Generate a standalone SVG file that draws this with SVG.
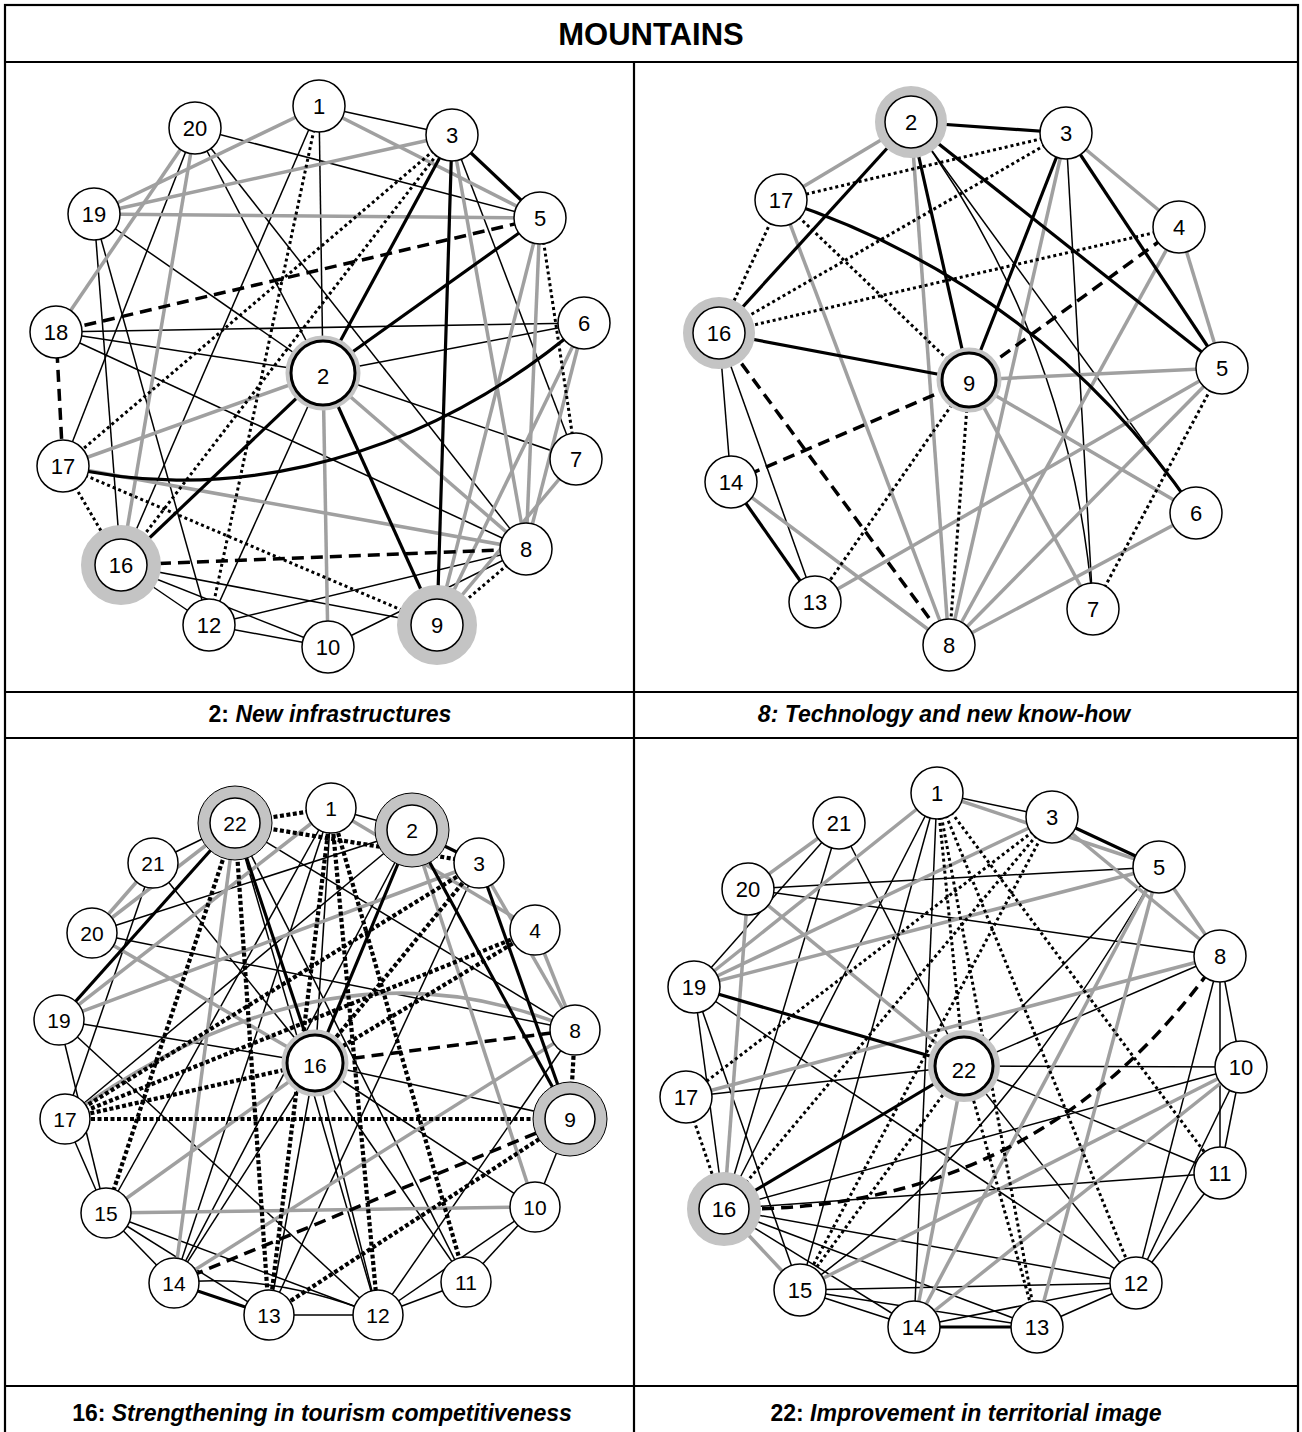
<svg xmlns="http://www.w3.org/2000/svg" width="1302" height="1432" viewBox="0 0 1302 1432">
<style>
.frame{fill:none;stroke:#000;stroke-width:2.2}
.t{stroke:#000;stroke-width:1.5;fill:none}
.k{stroke:#000;stroke-width:3.2;fill:none}
.g{stroke:#a0a0a0;stroke-width:3.5;fill:none}
.d{stroke:#000;stroke-width:3;stroke-dasharray:3 3;fill:none}
.D{stroke:#000;stroke-width:4.2;stroke-dasharray:4 2.5;fill:none}
.s{stroke:#000;stroke-width:3.5;stroke-dasharray:12 7;fill:none}
.n{fill:#fff;stroke:#000;stroke-width:1.5}
.nb{fill:#fff;stroke:#000;stroke-width:3}
.ring{fill:none;stroke:#c4c4c4}
.lb{font-family:"Liberation Sans",Arial,sans-serif;font-size:22px;text-anchor:middle;fill:#000}
.lb3{font-family:"Liberation Sans",Arial,sans-serif;font-size:21px;text-anchor:middle;fill:#000}
.cap{font-family:"Liberation Sans",Arial,sans-serif;font-size:23px;font-weight:bold;text-anchor:middle;fill:#000}
.hd{font-family:"Liberation Sans",Arial,sans-serif;font-size:31px;font-weight:bold;text-anchor:middle;fill:#000}
</style>
<rect x="0" y="0" width="1302" height="1432" fill="#fff"/>
<g id="table">
<rect class="frame" x="5" y="5" width="1293" height="1440"/>
<line class="frame" x1="5" y1="62" x2="1298" y2="62"/>
<line class="frame" x1="5" y1="692" x2="1298" y2="692"/>
<line class="frame" x1="5" y1="738" x2="1298" y2="738"/>
<line class="frame" x1="5" y1="1386" x2="1298" y2="1386"/>
<line class="frame" x1="634" y1="62" x2="634" y2="1432"/>
<text class="hd" x="651" y="45">MOUNTAINS</text>
<text class="cap" x="330" y="722">2: <tspan font-style="italic">New infrastructures</tspan></text>
<text class="cap" x="944" y="722" font-style="italic">8: Technology and new know-how</text>
<text class="cap" x="322" y="1421">16: <tspan font-style="italic">Strengthening in tourism competitiveness</tspan></text>
<text class="cap" x="966" y="1421">22: <tspan font-style="italic">Improvement in territorial image</tspan></text>
</g>

<g id="p1-edges">
<line class="t" x1="319" y1="106" x2="452" y2="135"/>
<line class="t" x1="319" y1="106" x2="323" y2="373"/>
<line class="t" x1="319" y1="106" x2="121" y2="565"/>
<line class="t" x1="195" y1="128" x2="540" y2="218"/>
<line class="t" x1="195" y1="128" x2="63" y2="466"/>
<line class="t" x1="195" y1="128" x2="323" y2="373"/>
<line class="t" x1="195" y1="128" x2="526" y2="549"/>
<line class="t" x1="452" y1="135" x2="576" y2="459"/>
<line class="t" x1="94" y1="214" x2="323" y2="373"/>
<line class="t" x1="94" y1="214" x2="121" y2="565"/>
<line class="t" x1="94" y1="214" x2="209" y2="625"/>
<line class="t" x1="56" y1="332" x2="584" y2="323"/>
<line class="t" x1="56" y1="332" x2="323" y2="373"/>
<line class="t" x1="56" y1="332" x2="526" y2="549"/>
<line class="t" x1="584" y1="323" x2="323" y2="373"/>
<line class="t" x1="323" y1="373" x2="209" y2="625"/>
<line class="t" x1="323" y1="373" x2="576" y2="459"/>
<line class="t" x1="121" y1="565" x2="437" y2="625"/>
<line class="t" x1="121" y1="565" x2="328" y2="647"/>
<line class="t" x1="121" y1="565" x2="209" y2="625"/>
<line class="t" x1="209" y1="625" x2="526" y2="549"/>
<line class="t" x1="209" y1="625" x2="328" y2="647"/>
<line class="t" x1="328" y1="647" x2="526" y2="549"/>
<line class="g" x1="319" y1="106" x2="540" y2="218"/>
<line class="g" x1="319" y1="106" x2="94" y2="214"/>
<line class="g" x1="195" y1="128" x2="56" y2="332"/>
<line class="g" x1="195" y1="128" x2="121" y2="565"/>
<line class="g" x1="452" y1="135" x2="94" y2="214"/>
<line class="g" x1="452" y1="135" x2="526" y2="549"/>
<line class="g" x1="540" y1="218" x2="94" y2="214"/>
<line class="g" x1="540" y1="218" x2="437" y2="625"/>
<line class="g" x1="540" y1="218" x2="526" y2="549"/>
<line class="g" x1="323" y1="373" x2="328" y2="647"/>
<line class="g" x1="323" y1="373" x2="526" y2="549"/>
<line class="g" x1="323" y1="373" x2="63" y2="466"/>
<line class="g" x1="63" y1="466" x2="526" y2="549"/>
<line class="g" x1="584" y1="323" x2="526" y2="549"/>
<line class="g" x1="584" y1="323" x2="437" y2="625"/>
<line class="g" x1="576" y1="459" x2="437" y2="625"/>
<line class="k" x1="452" y1="135" x2="540" y2="218"/>
<line class="k" x1="452" y1="135" x2="323" y2="373"/>
<line class="k" x1="452" y1="135" x2="437" y2="625"/>
<line class="k" x1="540" y1="218" x2="323" y2="373"/>
<line class="k" x1="323" y1="373" x2="437" y2="625"/>
<line class="k" x1="323" y1="373" x2="121" y2="565"/>
<path class="k" d="M63,466 C200,500 400,480 584,323"/>
<line class="d" x1="319" y1="106" x2="209" y2="625"/>
<line class="d" x1="452" y1="135" x2="63" y2="466"/>
<line class="d" x1="452" y1="135" x2="121" y2="565"/>
<line class="d" x1="540" y1="218" x2="576" y2="459"/>
<line class="d" x1="63" y1="466" x2="437" y2="625"/>
<line class="d" x1="63" y1="466" x2="121" y2="565"/>
<line class="d" x1="437" y1="625" x2="526" y2="549"/>
<line class="s" x1="540" y1="218" x2="56" y2="332"/>
<line class="s" x1="56" y1="332" x2="63" y2="466"/>
<line class="s" x1="121" y1="565" x2="526" y2="549"/>
</g>

<g id="p1-nodes">
<g id="p1-n1"><circle class="n" cx="319" cy="106" r="26"/><text class="lb" x="319" y="114">1</text></g>
<g id="p1-n20"><circle class="n" cx="195" cy="128" r="26"/><text class="lb" x="195" y="136">20</text></g>
<g id="p1-n3"><circle class="n" cx="452" cy="135" r="26"/><text class="lb" x="452" y="143">3</text></g>
<g id="p1-n19"><circle class="n" cx="94" cy="214" r="26"/><text class="lb" x="94" y="222">19</text></g>
<g id="p1-n5"><circle class="n" cx="540" cy="218" r="26"/><text class="lb" x="540" y="226">5</text></g>
<g id="p1-n18"><circle class="n" cx="56" cy="332" r="26"/><text class="lb" x="56" y="340">18</text></g>
<g id="p1-n6"><circle class="n" cx="584" cy="323" r="26"/><text class="lb" x="584" y="331">6</text></g>
<g id="p1-n2"><circle class="ring" cx="323" cy="373" r="35" stroke-width="5"/><circle class="nb" cx="323" cy="373" r="32"/><text class="lb" x="323" y="384" font-size="32">2</text></g>
<g id="p1-n17"><circle class="n" cx="63" cy="466" r="26"/><text class="lb" x="63" y="474">17</text></g>
<g id="p1-n7"><circle class="n" cx="576" cy="459" r="26"/><text class="lb" x="576" y="467">7</text></g>
<g id="p1-n16"><circle class="ring" cx="121" cy="565" r="33" stroke-width="14"/><circle class="n" cx="121" cy="565" r="26"/><text class="lb" x="121" y="573">16</text></g>
<g id="p1-n8"><circle class="n" cx="526" cy="549" r="26"/><text class="lb" x="526" y="557">8</text></g>
<g id="p1-n12"><circle class="n" cx="209" cy="625" r="26"/><text class="lb" x="209" y="633">12</text></g>
<g id="p1-n10"><circle class="n" cx="328" cy="647" r="26"/><text class="lb" x="328" y="655">10</text></g>
<g id="p1-n9"><circle class="ring" cx="437" cy="625" r="33" stroke-width="14"/><circle class="n" cx="437" cy="625" r="26"/><text class="lb" x="437" y="633">9</text></g>
</g>

<g id="p2-edges">
<path class="t" d="M911,122 Q1072,339 1093,609"/>
<line class="t" x1="911" y1="122" x2="1196" y2="513"/>
<line class="t" x1="1066" y1="133" x2="1093" y2="609"/>
<line class="t" x1="719" y1="333" x2="731" y2="482"/>
<line class="t" x1="719" y1="333" x2="815" y2="602"/>
<line class="g" x1="911" y1="122" x2="781" y2="200"/>
<line class="g" x1="911" y1="122" x2="949" y2="645"/>
<line class="g" x1="1066" y1="133" x2="949" y2="645"/>
<line class="g" x1="1066" y1="133" x2="1179" y2="227"/>
<line class="g" x1="781" y1="200" x2="949" y2="645"/>
<line class="g" x1="1179" y1="227" x2="1222" y2="368"/>
<line class="g" x1="1179" y1="227" x2="949" y2="645"/>
<line class="g" x1="969" y1="380" x2="1222" y2="368"/>
<line class="g" x1="969" y1="380" x2="1196" y2="513"/>
<line class="g" x1="969" y1="380" x2="1093" y2="609"/>
<line class="g" x1="1222" y1="368" x2="815" y2="602"/>
<line class="g" x1="1222" y1="368" x2="949" y2="645"/>
<line class="g" x1="731" y1="482" x2="949" y2="645"/>
<line class="g" x1="1196" y1="513" x2="949" y2="645"/>
<line class="k" x1="911" y1="122" x2="1066" y2="133"/>
<line class="k" x1="911" y1="122" x2="719" y2="333"/>
<line class="k" x1="911" y1="122" x2="969" y2="380"/>
<line class="k" x1="911" y1="122" x2="1222" y2="368"/>
<line class="k" x1="1066" y1="133" x2="969" y2="380"/>
<line class="k" x1="1066" y1="133" x2="1222" y2="368"/>
<line class="k" x1="719" y1="333" x2="969" y2="380"/>
<line class="k" x1="731" y1="482" x2="815" y2="602"/>
<path class="k" d="M781,200 Q1040,285 1196,513"/>
<line class="d" x1="1066" y1="133" x2="781" y2="200"/>
<line class="d" x1="1066" y1="133" x2="719" y2="333"/>
<line class="d" x1="781" y1="200" x2="969" y2="380"/>
<line class="d" x1="781" y1="200" x2="719" y2="333"/>
<line class="d" x1="1179" y1="227" x2="719" y2="333"/>
<line class="d" x1="969" y1="380" x2="815" y2="602"/>
<line class="d" x1="969" y1="380" x2="949" y2="645"/>
<line class="d" x1="1222" y1="368" x2="1093" y2="609"/>
<line class="s" x1="1179" y1="227" x2="969" y2="380"/>
<line class="s" x1="719" y1="333" x2="949" y2="645"/>
<line class="s" x1="969" y1="380" x2="731" y2="482"/>
</g>

<g id="p2-nodes">
<g id="p2-n2"><circle class="ring" cx="911" cy="122" r="31" stroke-width="10"/><circle class="n" cx="911" cy="122" r="26"/><text class="lb" x="911" y="130">2</text></g>
<g id="p2-n3"><circle class="n" cx="1066" cy="133" r="26"/><text class="lb" x="1066" y="141">3</text></g>
<g id="p2-n17"><circle class="n" cx="781" cy="200" r="26"/><text class="lb" x="781" y="208">17</text></g>
<g id="p2-n4"><circle class="n" cx="1179" cy="227" r="26"/><text class="lb" x="1179" y="235">4</text></g>
<g id="p2-n16"><circle class="ring" cx="719" cy="333" r="31" stroke-width="10"/><circle class="n" cx="719" cy="333" r="26"/><text class="lb" x="719" y="341">16</text></g>
<g id="p2-n5"><circle class="n" cx="1222" cy="368" r="26"/><text class="lb" x="1222" y="376">5</text></g>
<g id="p2-n9"><circle class="ring" cx="969" cy="380" r="30" stroke-width="5"/><circle class="nb" cx="969" cy="380" r="27"/><text class="lb" x="969" y="391" font-size="30">9</text></g>
<g id="p2-n14"><circle class="n" cx="731" cy="482" r="26"/><text class="lb" x="731" y="490">14</text></g>
<g id="p2-n6"><circle class="n" cx="1196" cy="513" r="26"/><text class="lb" x="1196" y="521">6</text></g>
<g id="p2-n13"><circle class="n" cx="815" cy="602" r="26"/><text class="lb" x="815" y="610">13</text></g>
<g id="p2-n7"><circle class="n" cx="1093" cy="609" r="26"/><text class="lb" x="1093" y="617">7</text></g>
<g id="p2-n8"><circle class="n" cx="949" cy="645" r="26"/><text class="lb" x="949" y="653">8</text></g>
</g>

<g id="p3-edges">
<line class="t" x1="235" y1="823" x2="153" y2="863"/>
<line class="t" x1="331" y1="808" x2="412" y2="830"/>
<line class="t" x1="92" y1="933" x2="412" y2="830"/>
<line class="t" x1="92" y1="933" x2="575" y2="1030"/>
<line class="t" x1="235" y1="823" x2="575" y2="1030"/>
<line class="t" x1="153" y1="863" x2="65" y2="1119"/>
<line class="t" x1="153" y1="863" x2="315" y2="1063"/>
<line class="t" x1="59" y1="1020" x2="315" y2="1063"/>
<line class="t" x1="59" y1="1020" x2="378" y2="1315"/>
<line class="t" x1="59" y1="1020" x2="106" y2="1213"/>
<line class="t" x1="65" y1="1119" x2="106" y2="1213"/>
<line class="t" x1="331" y1="808" x2="315" y2="1063"/>
<line class="t" x1="331" y1="808" x2="174" y2="1283"/>
<line class="t" x1="331" y1="808" x2="106" y2="1213"/>
<line class="t" x1="412" y1="830" x2="174" y2="1283"/>
<line class="t" x1="412" y1="830" x2="65" y2="1119"/>
<line class="t" x1="315" y1="1063" x2="570" y2="1119"/>
<line class="t" x1="315" y1="1063" x2="269" y2="1315"/>
<line class="t" x1="315" y1="1063" x2="378" y2="1315"/>
<line class="t" x1="315" y1="1063" x2="174" y2="1283"/>
<line class="t" x1="315" y1="1063" x2="466" y2="1282"/>
<line class="t" x1="315" y1="1063" x2="535" y2="1207"/>
<line class="t" x1="106" y1="1213" x2="174" y2="1283"/>
<line class="t" x1="106" y1="1213" x2="269" y2="1315"/>
<line class="t" x1="106" y1="1213" x2="378" y2="1315"/>
<path class="t" d="M174,1283 Q270,1272 378,1315"/>
<line class="t" x1="269" y1="1315" x2="378" y2="1315"/>
<line class="t" x1="378" y1="1315" x2="466" y2="1282"/>
<line class="t" x1="378" y1="1315" x2="535" y2="1207"/>
<line class="t" x1="466" y1="1282" x2="535" y2="1207"/>
<line class="t" x1="235" y1="823" x2="466" y2="1282"/>
<line class="t" x1="235" y1="823" x2="378" y2="1315"/>
<line class="t" x1="479" y1="863" x2="269" y2="1315"/>
<line class="t" x1="570" y1="1119" x2="535" y2="1207"/>
<line class="t" x1="575" y1="1030" x2="378" y2="1315"/>
<line class="g" x1="153" y1="863" x2="92" y2="933"/>
<line class="g" x1="235" y1="823" x2="92" y2="933"/>
<line class="g" x1="331" y1="808" x2="59" y2="1020"/>
<line class="g" x1="479" y1="863" x2="59" y2="1020"/>
<line class="g" x1="331" y1="808" x2="535" y2="930"/>
<line class="g" x1="412" y1="830" x2="535" y2="1207"/>
<line class="g" x1="479" y1="863" x2="575" y2="1030"/>
<line class="g" x1="535" y1="930" x2="575" y2="1030"/>
<path class="g" d="M65,1119 Q330,925 575,1030"/>
<line class="g" x1="92" y1="933" x2="315" y2="1063"/>
<line class="g" x1="106" y1="1213" x2="315" y2="1063"/>
<line class="g" x1="106" y1="1213" x2="535" y2="1207"/>
<line class="g" x1="174" y1="1283" x2="575" y2="1030"/>
<line class="g" x1="235" y1="823" x2="174" y2="1283"/>
<line class="k" x1="235" y1="823" x2="59" y2="1020"/>
<line class="k" x1="235" y1="823" x2="315" y2="1063"/>
<line class="k" x1="412" y1="830" x2="315" y2="1063"/>
<line class="k" x1="412" y1="830" x2="570" y2="1119"/>
<line class="k" x1="479" y1="863" x2="570" y2="1119"/>
<line class="k" x1="412" y1="830" x2="479" y2="863"/>
<line class="k" x1="174" y1="1283" x2="269" y2="1315"/>
<line class="D" x1="235" y1="823" x2="331" y2="808"/>
<line class="D" x1="235" y1="823" x2="479" y2="863"/>
<line class="D" x1="235" y1="823" x2="269" y2="1315"/>
<line class="D" x1="235" y1="823" x2="106" y2="1213"/>
<line class="D" x1="331" y1="808" x2="269" y2="1315"/>
<line class="D" x1="331" y1="808" x2="378" y2="1315"/>
<line class="D" x1="331" y1="808" x2="466" y2="1282"/>
<line class="D" x1="479" y1="863" x2="315" y2="1063"/>
<line class="D" x1="535" y1="930" x2="315" y2="1063"/>
<line class="D" x1="479" y1="863" x2="65" y2="1119"/>
<line class="D" x1="535" y1="930" x2="65" y2="1119"/>
<line class="D" x1="65" y1="1119" x2="315" y2="1063"/>
<line class="D" x1="65" y1="1119" x2="570" y2="1119"/>
<line class="D" x1="269" y1="1315" x2="570" y2="1119"/>
<line class="D" x1="575" y1="1030" x2="570" y2="1119"/>
<line class="s" x1="315" y1="1063" x2="575" y2="1030"/>
<line class="s" x1="174" y1="1283" x2="570" y2="1119"/>
</g>

<g id="p3-nodes">
<g id="p3-n22"><circle class="ring" cx="235" cy="823" r="31" stroke-width="12" stroke="#bdbdbd"/><circle cx="235" cy="823" r="37" fill="none" stroke="#000" stroke-width="1"/><circle class="n" cx="235" cy="823" r="25"/><text class="lb3" x="235" y="831">22</text></g>
<g id="p3-n1"><circle class="n" cx="331" cy="808" r="25"/><text class="lb3" x="331" y="816">1</text></g>
<g id="p3-n2"><circle class="ring" cx="412" cy="830" r="31" stroke-width="12" stroke="#bdbdbd"/><circle cx="412" cy="830" r="37" fill="none" stroke="#000" stroke-width="1"/><circle class="n" cx="412" cy="830" r="25"/><text class="lb3" x="412" y="838">2</text></g>
<g id="p3-n21"><circle class="n" cx="153" cy="863" r="25"/><text class="lb3" x="153" y="871">21</text></g>
<g id="p3-n3"><circle class="n" cx="479" cy="863" r="25"/><text class="lb3" x="479" y="871">3</text></g>
<g id="p3-n20"><circle class="n" cx="92" cy="933" r="25"/><text class="lb3" x="92" y="941">20</text></g>
<g id="p3-n4"><circle class="n" cx="535" cy="930" r="25"/><text class="lb3" x="535" y="938">4</text></g>
<g id="p3-n19"><circle class="n" cx="59" cy="1020" r="25"/><text class="lb3" x="59" y="1028">19</text></g>
<g id="p3-n8"><circle class="n" cx="575" cy="1030" r="25"/><text class="lb3" x="575" y="1038">8</text></g>
<g id="p3-n16"><circle class="ring" cx="315" cy="1063" r="31" stroke-width="5"/><circle class="nb" cx="315" cy="1063" r="28"/><text class="lb3" x="315" y="1073" font-size="30">16</text></g>
<g id="p3-n17"><circle class="n" cx="65" cy="1119" r="25"/><text class="lb3" x="65" y="1127">17</text></g>
<g id="p3-n9"><circle class="ring" cx="570" cy="1119" r="31" stroke-width="12" stroke="#bdbdbd"/><circle cx="570" cy="1119" r="37" fill="none" stroke="#000" stroke-width="1"/><circle class="n" cx="570" cy="1119" r="25"/><text class="lb3" x="570" y="1127">9</text></g>
<g id="p3-n15"><circle class="n" cx="106" cy="1213" r="25"/><text class="lb3" x="106" y="1221">15</text></g>
<g id="p3-n10"><circle class="n" cx="535" cy="1207" r="25"/><text class="lb3" x="535" y="1215">10</text></g>
<g id="p3-n14"><circle class="n" cx="174" cy="1283" r="25"/><text class="lb3" x="174" y="1291">14</text></g>
<g id="p3-n11"><circle class="n" cx="466" cy="1282" r="25"/><text class="lb3" x="466" y="1290">11</text></g>
<g id="p3-n13"><circle class="n" cx="269" cy="1315" r="25"/><text class="lb3" x="269" y="1323">13</text></g>
<g id="p3-n12"><circle class="n" cx="378" cy="1315" r="25"/><text class="lb3" x="378" y="1323">12</text></g>
</g>

<g id="p4-edges">
<line class="t" x1="937" y1="793" x2="1052" y2="817"/>
<line class="t" x1="937" y1="793" x2="724" y2="1209"/>
<line class="t" x1="937" y1="793" x2="800" y2="1290"/>
<line class="t" x1="937" y1="793" x2="914" y2="1327"/>
<line class="t" x1="1159" y1="867" x2="748" y2="889"/>
<line class="t" x1="1159" y1="867" x2="964" y2="1066"/>
<line class="t" x1="748" y1="889" x2="1220" y2="956"/>
<line class="t" x1="839" y1="823" x2="694" y2="987"/>
<line class="t" x1="839" y1="823" x2="724" y2="1209"/>
<line class="t" x1="839" y1="823" x2="964" y2="1066"/>
<line class="t" x1="1220" y1="956" x2="964" y2="1066"/>
<line class="t" x1="1220" y1="956" x2="1241" y2="1067"/>
<line class="t" x1="1220" y1="956" x2="1220" y2="1173"/>
<line class="t" x1="1220" y1="956" x2="1136" y2="1283"/>
<line class="t" x1="694" y1="987" x2="724" y2="1209"/>
<line class="t" x1="694" y1="987" x2="800" y2="1290"/>
<line class="t" x1="694" y1="987" x2="1136" y2="1283"/>
<line class="t" x1="686" y1="1097" x2="964" y2="1066"/>
<line class="t" x1="964" y1="1066" x2="1241" y2="1067"/>
<line class="t" x1="964" y1="1066" x2="1220" y2="1173"/>
<line class="t" x1="964" y1="1066" x2="1136" y2="1283"/>
<line class="t" x1="724" y1="1209" x2="1220" y2="1173"/>
<line class="t" x1="724" y1="1209" x2="1241" y2="1067"/>
<line class="t" x1="724" y1="1209" x2="1136" y2="1283"/>
<line class="t" x1="724" y1="1209" x2="1037" y2="1327"/>
<line class="t" x1="724" y1="1209" x2="914" y2="1327"/>
<line class="t" x1="800" y1="1290" x2="1136" y2="1283"/>
<line class="t" x1="800" y1="1290" x2="1037" y2="1327"/>
<line class="t" x1="800" y1="1290" x2="914" y2="1327"/>
<line class="t" x1="914" y1="1327" x2="1136" y2="1283"/>
<line class="t" x1="1037" y1="1327" x2="1136" y2="1283"/>
<line class="t" x1="1136" y1="1283" x2="1241" y2="1067"/>
<line class="t" x1="1136" y1="1283" x2="1220" y2="1173"/>
<line class="t" x1="1220" y1="1173" x2="1241" y2="1067"/>
<path class="t" d="M800,1290 Q1000,1150 1159,867"/>
<line class="g" x1="937" y1="793" x2="1159" y2="867"/>
<line class="g" x1="1052" y1="817" x2="1220" y2="956"/>
<line class="g" x1="937" y1="793" x2="694" y2="987"/>
<line class="g" x1="1052" y1="817" x2="694" y2="987"/>
<line class="g" x1="1159" y1="867" x2="694" y2="987"/>
<line class="g" x1="1159" y1="867" x2="1220" y2="956"/>
<line class="g" x1="1159" y1="867" x2="1037" y2="1327"/>
<line class="g" x1="1159" y1="867" x2="914" y2="1327"/>
<line class="g" x1="748" y1="889" x2="964" y2="1066"/>
<line class="g" x1="748" y1="889" x2="839" y2="823"/>
<line class="g" x1="748" y1="889" x2="724" y2="1209"/>
<line class="g" x1="686" y1="1097" x2="1220" y2="956"/>
<line class="g" x1="964" y1="1066" x2="914" y2="1327"/>
<line class="g" x1="1241" y1="1067" x2="800" y2="1290"/>
<line class="g" x1="1241" y1="1067" x2="914" y2="1327"/>
<line class="g" x1="724" y1="1209" x2="800" y2="1290"/>
<line class="k" x1="1052" y1="817" x2="1159" y2="867"/>
<line class="k" x1="694" y1="987" x2="964" y2="1066"/>
<line class="k" x1="724" y1="1209" x2="964" y2="1066"/>
<line class="k" x1="914" y1="1327" x2="1037" y2="1327"/>
<line class="d" x1="937" y1="793" x2="964" y2="1066"/>
<line class="d" x1="937" y1="793" x2="1037" y2="1327"/>
<line class="d" x1="937" y1="793" x2="1136" y2="1283"/>
<line class="d" x1="937" y1="793" x2="1220" y2="1173"/>
<line class="d" x1="1052" y1="817" x2="686" y2="1097"/>
<line class="d" x1="1052" y1="817" x2="724" y2="1209"/>
<line class="d" x1="1052" y1="817" x2="800" y2="1290"/>
<line class="d" x1="964" y1="1066" x2="1037" y2="1327"/>
<line class="d" x1="964" y1="1066" x2="800" y2="1290"/>
<line class="d" x1="686" y1="1097" x2="724" y2="1209"/>
<path class="s" d="M724,1209 Q1040,1215 1220,956"/>
</g>

<g id="p4-nodes">
<g id="p4-n1"><circle class="n" cx="937" cy="793" r="26"/><text class="lb" x="937" y="801">1</text></g>
<g id="p4-n21"><circle class="n" cx="839" cy="823" r="26"/><text class="lb" x="839" y="831">21</text></g>
<g id="p4-n3"><circle class="n" cx="1052" cy="817" r="26"/><text class="lb" x="1052" y="825">3</text></g>
<g id="p4-n20"><circle class="n" cx="748" cy="889" r="26"/><text class="lb" x="748" y="897">20</text></g>
<g id="p4-n5"><circle class="n" cx="1159" cy="867" r="26"/><text class="lb" x="1159" y="875">5</text></g>
<g id="p4-n8"><circle class="n" cx="1220" cy="956" r="26"/><text class="lb" x="1220" y="964">8</text></g>
<g id="p4-n19"><circle class="n" cx="694" cy="987" r="26"/><text class="lb" x="694" y="995">19</text></g>
<g id="p4-n22"><circle class="ring" cx="964" cy="1066" r="33" stroke-width="6"/><circle class="nb" cx="964" cy="1066" r="29"/><text class="lb" x="964" y="1078" font-size="34">22</text></g>
<g id="p4-n17"><circle class="n" cx="686" cy="1097" r="26"/><text class="lb" x="686" y="1105">17</text></g>
<g id="p4-n10"><circle class="n" cx="1241" cy="1067" r="26"/><text class="lb" x="1241" y="1075">10</text></g>
<g id="p4-n11"><circle class="n" cx="1220" cy="1173" r="26"/><text class="lb" x="1220" y="1181">11</text></g>
<g id="p4-n16"><circle class="ring" cx="724" cy="1209" r="31" stroke-width="12"/><circle class="n" cx="724" cy="1209" r="25"/><text class="lb" x="724" y="1217">16</text></g>
<g id="p4-n12"><circle class="n" cx="1136" cy="1283" r="26"/><text class="lb" x="1136" y="1291">12</text></g>
<g id="p4-n15"><circle class="n" cx="800" cy="1290" r="26"/><text class="lb" x="800" y="1298">15</text></g>
<g id="p4-n14"><circle class="n" cx="914" cy="1327" r="26"/><text class="lb" x="914" y="1335">14</text></g>
<g id="p4-n13"><circle class="n" cx="1037" cy="1327" r="26"/><text class="lb" x="1037" y="1335">13</text></g>
</g>
</svg>
